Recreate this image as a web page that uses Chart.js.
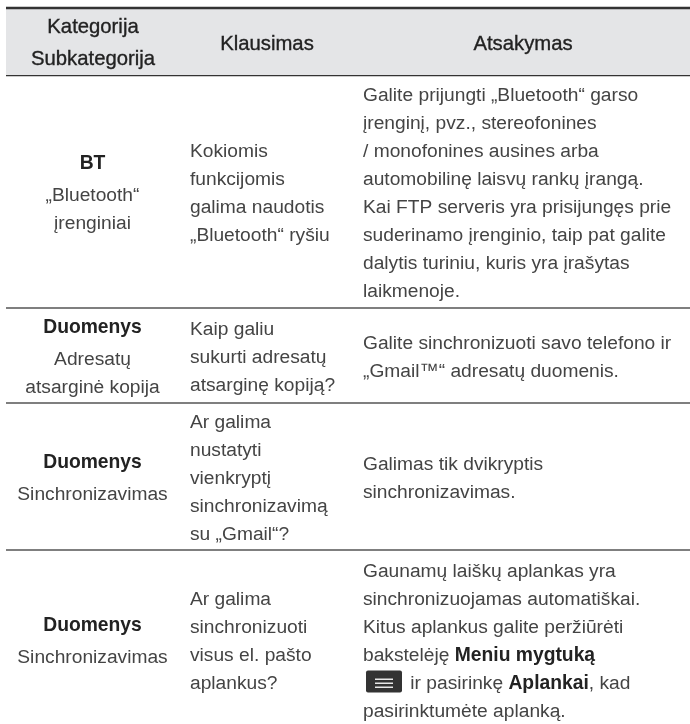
<!DOCTYPE html>
<html lang="lt">
<head>
<meta charset="utf-8">
<title>Kategorija</title>
<script src="https://cdn.jsdelivr.net/npm/chart.js@4"></script>
<style>
  html, body { margin: 0; padding: 0; background: #fff; }
  canvas { display: block; }
</style>
</head>
<body>
<canvas id="c" width="690" height="724"></canvas>
<script>
const headers = [["Kategorija", "Subkategorija"], ["Klausimas"], ["Atsakymas"]];
const categories = ["BT", "Duomenys", "Duomenys", "Duomenys"];
const subcategories = [
  ["„Bluetooth“", "įrenginiai"],
  ["Adresatų", "atsarginė kopija"],
  ["Sinchronizavimas"],
  ["Sinchronizavimas"],
];
const questions = [
  ["Kokiomis", "funkcijomis", "galima naudotis", "„Bluetooth“ ryšiu"],
  ["Kaip galiu", "sukurti adresatų", "atsarginę kopiją?"],
  ["Ar galima", "nustatyti", "vienkryptį", "sinchronizavimą", "su „Gmail“?"],
  ["Ar galima", "sinchronizuoti", "visus el. pašto", "aplankus?"],
];
// **bold** runs, @ = the menu button icon
const answers = [
  ["Galite prijungti „Bluetooth“ garso", "įrenginį, pvz., stereofonines", "/ monofonines ausines arba",
   "automobilinę laisvų rankų įrangą.", "Kai FTP serveris yra prisijungęs prie",
   "suderinamo įrenginio, taip pat galite", "dalytis turiniu, kuris yra įrašytas", "laikmenoje."],
  ["Galite sinchronizuoti savo telefono ir", "„Gmail™“ adresatų duomenis."],
  ["Galimas tik dvikryptis", "sinchronizavimas."],
  ["Gaunamų laiškų aplankas yra", "sinchronizuojamas automatiškai.", "Kitus aplankus galite peržiūrėti",
   "bakstelėję **Meniu mygtuką**", "@ ir pasirinkę **Aplankai**, kad", "pasirinktumėte aplanką."],
];
// row boundaries on the y scale
const rowEdges = [75, 308, 403, 550, 728];
const rowRules = [308, 403, 550];
const headerBand = [8, 75];

const textColor = "#444";
const boldColor = "#222";
const fontName = '"Liberation Sans", Arial, sans-serif';
const fontSize = 19.2;
const headSize = 20.3;
const boldSize = 19.3;
const lineHeight = 28;
const catGap = 32;

const COL = { cat: 92.5, q: 190, a: 363, head: [93, 267, 523] };

function drawRuns(ctx, line, x, y) {
  let cx = x;
  line.split("**").forEach((run, i) => {
    if (!run) return;
    ctx.font = `${i % 2 ? "bold " : ""}${i % 2 ? boldSize : fontSize}px ${fontName}`;
    ctx.fillStyle = i % 2 ? boldColor : textColor;
    if (run[0] === "@") {
      ctx.fillStyle = "#333";
      ctx.beginPath();
      ctx.roundRect(cx + 3, y - 18, 36, 22, 2);
      ctx.fill();
      ctx.fillStyle = "#e8e8e8";
      [-10, -6, -2].forEach((o) => ctx.fillRect(cx + 12, y + o, 18, 1.5));
      cx += 42;
      run = run.slice(1);
      ctx.fillStyle = textColor;
    }
    ctx.fillText(run, cx, y);
    cx += ctx.measureText(run).width;
  });
}

const tablePlugin = {
  id: "tableText",
  afterDatasetsDraw(chart) {
    const { ctx, scales } = chart;
    const X = (v) => scales.x.getPixelForValue(v);
    const Y = (v) => scales.y.getPixelForValue(v);
    ctx.save();
    ctx.textBaseline = "alphabetic";
    // header
    ctx.textAlign = "center";
    ctx.fillStyle = boldColor;
    ctx.strokeStyle = boldColor;
    ctx.lineWidth = 0.35;
    ctx.font = `${headSize}px ${fontName}`;
    headers.forEach((lines, c) => {
      const y0 = lines.length > 1 ? 33 : 50;
      lines.forEach((t, i) => {
        ctx.fillText(t, X(COL.head[c]), Y(y0 + catGap * i));
        ctx.strokeText(t, X(COL.head[c]), Y(y0 + catGap * i));
      });
    });
    categories.forEach((cat, r) => {
      const mid = (rowEdges[r] + rowEdges[r + 1]) / 2 + 7.5;
      // category column, centred
      const sub = subcategories[r];
      let y = mid - (catGap + (sub.length - 1) * lineHeight) / 2;
      ctx.textAlign = "center";
      ctx.font = `bold ${boldSize}px ${fontName}`;
      ctx.fillStyle = boldColor;
      ctx.fillText(cat, X(COL.cat), Y(y));
      y += catGap;
      ctx.font = `${fontSize}px ${fontName}`;
      ctx.fillStyle = textColor;
      sub.forEach((t) => { ctx.fillText(t, X(COL.cat), Y(y)); y += lineHeight; });
      // question and answer columns, left aligned
      ctx.textAlign = "left";
      [[questions[r], COL.q], [answers[r], COL.a]].forEach(([lines, x]) => {
        const y0 = mid - ((lines.length - 1) * lineHeight) / 2;
        lines.forEach((t, i) => drawRuns(ctx, t, X(x), Y(y0 + i * lineHeight)));
      });
    });
    ctx.restore();
  },
};

const ruleData = (y) => [{ x: 6, y }, { x: 690, y }];

new Chart(document.getElementById("c"), {
  type: "scatter",
  data: {
    datasets: [
      {
        data: ruleData(headerBand[0]),
        showLine: true, pointRadius: 0, borderColor: "#333", borderWidth: 2.5,
        fill: "+1", backgroundColor: "#e4e5e7",
      },
      {
        data: ruleData(headerBand[1]),
        showLine: true, pointRadius: 0, borderColor: "#333", borderWidth: 2.5,
      },
      ...rowRules.map((y) => ({
        data: ruleData(y),
        showLine: true, pointRadius: 0, borderColor: "#555", borderWidth: 1.3,
      })),
    ],
  },
  options: {
    responsive: false,
    animation: false,
    layout: { padding: 0 },
    plugins: { legend: { display: false }, tooltip: { enabled: false } },
    scales: {
      x: { type: "linear", min: 0, max: 690, display: false },
      y: { type: "linear", min: 0, max: 724, reverse: true, display: false },
    },
  },
  plugins: [tablePlugin],
});
</script>
</body>
</html>
